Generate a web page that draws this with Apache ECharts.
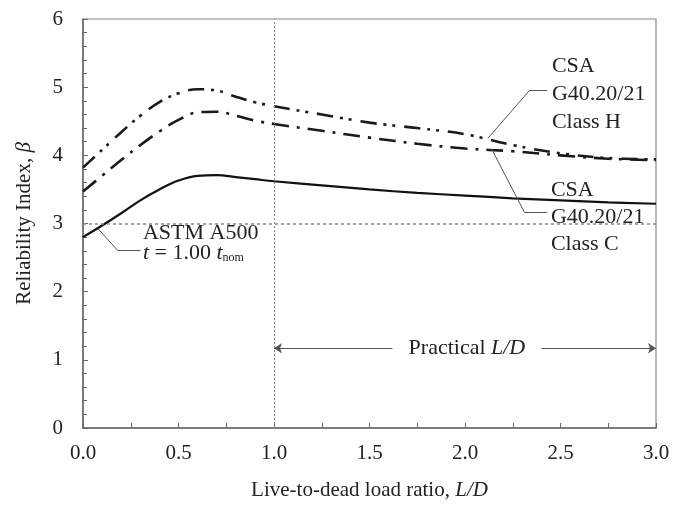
<!DOCTYPE html>
<html>
<head>
<meta charset="utf-8">
<script src="https://cdn.jsdelivr.net/npm/echarts@6/dist/echarts.min.js"></script>
<style>
  html, body { margin: 0; padding: 0; background: #fff; }
  #chart { width: 673px; height: 506px; }
</style>
</head>
<body>
<div id="chart"></div>
<script>
// live-to-dead load ratio
const ldRatio = [0, 0.1, 0.2, 0.3, 0.4, 0.5, 0.6, 0.7, 0.8, 0.9, 1.0, 1.25, 1.5, 1.75, 2.0, 2.25, 2.5, 2.75, 3.0];
// reliability index beta
const betaClassH = [3.82, 4.08, 4.34, 4.58, 4.78, 4.91, 4.97, 4.95, 4.86, 4.78, 4.72, 4.60, 4.48, 4.40, 4.31, 4.15, 4.03, 3.96, 3.94];
const betaClassC = [3.47, 3.70, 3.93, 4.15, 4.35, 4.52, 4.63, 4.64, 4.58, 4.51, 4.46, 4.36, 4.26, 4.17, 4.10, 4.06, 4.00, 3.95, 3.93];
const betaA500 = [2.80, 2.97, 3.15, 3.34, 3.50, 3.63, 3.70, 3.71, 3.68, 3.65, 3.62, 3.56, 3.50, 3.45, 3.41, 3.37, 3.34, 3.31, 3.29];
const targetBeta = 3.0;
const practicalStart = 1.0;

const font = "'Liberation Serif', 'Times New Roman', serif";
const ink = '#222';

function pairs(ys) {
  return ldRatio.map((x, i) => [x, ys[i]]);
}

const leader = { color: '#555', width: 1, type: 'solid' };

const chart = echarts.init(document.getElementById('chart'));

chart.setOption({
  animation: false,
  textStyle: { fontFamily: font },
  grid: {
    left: 83, right: 17, top: 19, bottom: 76,
    show: true, borderColor: '#888', borderWidth: 1.2
  },
  xAxis: {
    type: 'value', min: 0, max: 3, interval: 0.5,
    name: 'Live-to-dead load ratio, {i|L/D}',
    nameLocation: 'middle', nameGap: 52,
    nameTextStyle: {
      fontSize: 21, color: ink, fontFamily: font,
      rich: { i: { fontSize: 21, fontStyle: 'italic', color: ink, fontFamily: font } }
    },
    axisLine: { lineStyle: { color: '#666', width: 1.5 } },
    axisTick: { inside: true, length: 5, lineStyle: { color: '#666' } },
    minorTick: { show: true, splitNumber: 2, length: 5, lineStyle: { color: '#666' } },
    axisLabel: { fontSize: 21, color: ink, margin: 15, formatter: v => v.toFixed(1) },
    splitLine: { show: false }
  },
  yAxis: {
    type: 'value', min: 0, max: 6, interval: 1,
    name: 'Reliability Index, {i|β}',
    nameLocation: 'middle', nameGap: 48,
    nameTextStyle: {
      fontSize: 21, color: ink, fontFamily: font,
      rich: { i: { fontSize: 21, fontStyle: 'italic', color: ink, fontFamily: font } }
    },
    axisLine: { lineStyle: { color: '#666', width: 1.5 } },
    axisTick: { inside: true, length: 5, lineStyle: { color: '#666' } },
    minorTick: { show: true, splitNumber: 5, length: 4, lineStyle: { color: '#666' } },
    axisLabel: { fontSize: 21, color: ink, margin: 20 },
    splitLine: { show: false }
  },
  series: [
    {
      name: 'Class H', type: 'line', data: pairs(betaClassH),
      smooth: 0.4, showSymbol: false,
      lineStyle: { color: '#1a1a1a', width: 2.6, type: [16, 7, 3, 6, 3, 9], cap: 'butt' }
    },
    {
      name: 'Class C', type: 'line', data: pairs(betaClassC),
      smooth: 0.4, showSymbol: false,
      lineStyle: { color: '#1a1a1a', width: 2.6, type: [17, 8, 3, 8], cap: 'butt' }
    },
    {
      name: 'ASTM A500', type: 'line', data: pairs(betaA500),
      smooth: 0.4, showSymbol: false,
      lineStyle: { color: '#111', width: 2.2 },
      markLine: {
        silent: true, symbol: 'none', label: { show: false },
        data: [
          { yAxis: targetBeta, lineStyle: { color: '#888', width: 1.5, type: [3, 3] } },
          { xAxis: practicalStart, lineStyle: { color: '#888', width: 1, type: [2, 2] } },
          // leader lines
          [{ coord: [0.08, 2.92], lineStyle: leader }, { coord: [0.18, 2.61] }],
          [{ coord: [0.18, 2.61], lineStyle: leader }, { coord: [0.30, 2.61] }],
          [{ coord: [2.12, 4.25], lineStyle: leader }, { coord: [2.34, 4.96] }],
          [{ coord: [2.34, 4.96], lineStyle: leader }, { coord: [2.43, 4.96] }],
          [{ coord: [2.14, 4.09], lineStyle: leader }, { coord: [2.31, 3.17] }],
          [{ coord: [2.31, 3.17], lineStyle: leader }, { coord: [2.43, 3.17] }],
          // practical L/D arrows
          [{ coord: [practicalStart, 1.17], symbol: 'arrow', symbolSize: 8, lineStyle: leader },
           { coord: [1.62, 1.17], symbol: 'none' }],
          [{ coord: [2.40, 1.17], symbol: 'none', lineStyle: leader },
           { coord: [3.0, 1.17], symbol: 'arrow', symbolSize: 8 }]
        ]
      }
    }
  ]
});

// text annotations placed in data coordinates
function at(x, y) {
  return chart.convertToPixel({ gridIndex: 0 }, [x, y]);
}

const rich = {
  i: { fontStyle: 'italic', fontSize: 22, fontFamily: font, fill: ink },
  sub: { fontSize: 12, fontFamily: font, fill: ink, padding: [10, 0, 0, 0] }
};

const pA = at(0.314, 3.02);
const pH = at(2.455, 5.51);
const pC = at(2.45, 3.69);
const pP = at(2.01, 1.17);

chart.setOption({
  graphic: [
    {
      type: 'text', left: pA[0], top: pA[1],
      style: {
        text: 'ASTM A500\n{i|t} = 1.00 {i|t}{sub|nom}',
        font: '22px ' + font, fill: ink, lineHeight: 20, rich: rich
      }
    },
    {
      type: 'text', left: pH[0], top: pH[1],
      style: { text: 'CSA\nG40.20/21\nClass H', font: '22px ' + font, fill: ink, lineHeight: 28 }
    },
    {
      type: 'text', left: pC[0], top: pC[1],
      style: { text: 'CSA\nG40.20/21\nClass C', font: '22px ' + font, fill: ink, lineHeight: 27 }
    },
    {
      type: 'text', x: pP[0], y: pP[1],
      style: {
        text: 'Practical {i|L/D}', font: '22px ' + font, fill: ink,
        align: 'center', verticalAlign: 'middle', rich: rich
      }
    }
  ]
});
</script>
</body>
</html>
